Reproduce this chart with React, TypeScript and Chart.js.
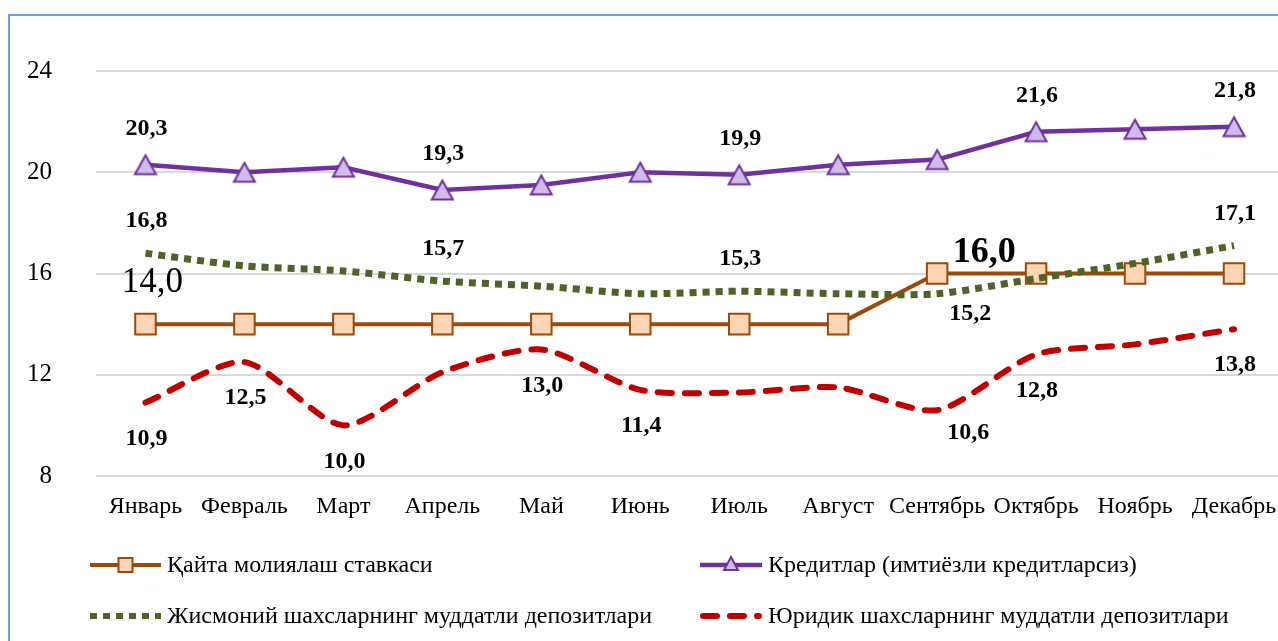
import React, { useEffect, useRef } from 'react';
import { Chart, registerables } from 'chart.js';

Chart.register(...registerables);

const months = ['Январь', 'Февраль', 'Март', 'Апрель', 'Май', 'Июнь', 'Июль', 'Август', 'Сентябрь', 'Октябрь', 'Ноябрь', 'Декабрь'];
const refinancingRate = [14.0, 14.0, 14.0, 14.0, 14.0, 14.0, 14.0, 14.0, 16.0, 16.0, 16.0, 16.0];
const loans = [20.3, 20.0, 20.2, 19.3, 19.5, 20.0, 19.9, 20.3, 20.5, 21.6, 21.7, 21.8];
const individualDeposits = [16.8, 16.3, 16.1, 15.7, 15.5, 15.2, 15.3, 15.2, 15.2, 15.8, 16.4, 17.1];
const corporateDeposits = [10.9, 12.5, 10.0, 12.1, 13.0, 11.4, 11.3, 11.5, 10.6, 12.8, 13.2, 13.8];
const seriesNames = [
  'Қайта молиялаш ставкаси',
  'Кредитлар (имтиёзли кредитларсиз)',
  'Жисмоний шахсларнинг муддатли депозитлари',
  'Юридик шахсларнинг муддатли депозитлари',
];
const yTicks = [8, 12, 16, 20, 24];

// indices of points that carry a value label, per series
const refinancingLabelIdx = [0, 8];
const loansLabelIdx = [0, 3, 6, 9, 11];
const individualLabelIdx = [0, 3, 6, 8, 11];
const corporateLabelIdx = [0, 1, 2, 4, 5, 8, 9, 11];

const FONT = "'Liberation Serif', 'Times New Roman', serif";
const PURPLE = '#7030A0';
const LILAC = '#D1BBE8';

type LabelStyle = { dx: number; dy: number; size: number; bold: boolean };
const labelStyle = (ds: number, idx: number): LabelStyle => {
  if (ds === 0) {
    if (idx === 0) return { dx: 7, dy: -41, size: 35, bold: false };
    return { dx: 47, dy: -21, size: 36, bold: true };
  }
  if (ds === 1) return { dx: 1, dy: -36, size: 24, bold: true };
  if (ds === 2) {
    if (idx === 8) return { dx: 33, dy: 20, size: 24, bold: true };
    return { dx: 1, dy: -32, size: 24, bold: true };
  }
  if (idx === 8) return { dx: 31, dy: 23, size: 24, bold: true };
  return { dx: 1, dy: 36, size: 24, bold: true };
};

const labelIdx = [refinancingLabelIdx, loansLabelIdx, individualLabelIdx, corporateLabelIdx];

const valueLabelPlugin = {
  id: 'valueLabels',
  afterDatasetsDraw(chart: any) {
    const ctx = chart.ctx;
    ctx.save();
    ctx.fillStyle = '#000';
    ctx.textAlign = 'center';
    ctx.textBaseline = 'middle';
    chart.data.datasets.forEach((d: any, ds: number) => {
      const meta = chart.getDatasetMeta(ds);
      labelIdx[ds].forEach((i) => {
        const pt = meta.data[i];
        const st = labelStyle(ds, i);
        ctx.font = `${st.bold ? 'bold ' : ''}${st.size}px ${FONT}`;
        const txt = Number(d.data[i]).toFixed(1).replace('.', ',');
        ctx.fillText(txt, pt.x + st.dx, pt.y + st.dy);
      });
    });
    ctx.restore();
  },
};

const legendItems = [
  { x: 90, y: 565, w: 71, tx: 167, marker: 'rect' },
  { x: 700, y: 565, w: 62, tx: 768, marker: 'triangle' },
  { x: 90, y: 616, w: 71, tx: 167, marker: 'none' },
  { x: 700, y: 616, w: 62, tx: 768, marker: 'none' },
];

const customLegendPlugin = {
  id: 'customLegend',
  afterDraw(chart: any) {
    const ctx = chart.ctx;
    ctx.save();
    chart.data.datasets.forEach((d: any, i: number) => {
      const it = legendItems[i];
      const round = d.borderCapStyle === 'round';
      ctx.strokeStyle = d.borderColor;
      ctx.lineWidth = Math.min(d.borderWidth, 6);
      ctx.lineCap = d.borderCapStyle || 'butt';
      ctx.setLineDash(d.borderDash || []);
      ctx.beginPath();
      ctx.moveTo(it.x + (round ? 3 : 0), it.y);
      ctx.lineTo(it.x + it.w - (round ? 3 : 0), it.y);
      ctx.stroke();
      ctx.setLineDash([]);
      const cx = it.x + it.w / 2;
      if (it.marker === 'rect') {
        ctx.fillStyle = d.pointBackgroundColor;
        ctx.strokeStyle = d.pointBorderColor;
        ctx.lineWidth = 2;
        ctx.fillRect(cx - 7, it.y - 7, 14, 14);
        ctx.strokeRect(cx - 7, it.y - 7, 14, 14);
      } else if (it.marker === 'triangle') {
        ctx.fillStyle = LILAC;
        ctx.strokeStyle = PURPLE;
        ctx.lineWidth = 2;
        ctx.beginPath();
        ctx.moveTo(cx, it.y - 8);
        ctx.lineTo(cx + 7, it.y + 5);
        ctx.lineTo(cx - 7, it.y + 5);
        ctx.closePath();
        ctx.fill();
        ctx.stroke();
      }
      ctx.fillStyle = '#000';
      ctx.font = `24px ${FONT}`;
      ctx.textAlign = 'left';
      ctx.textBaseline = 'middle';
      ctx.fillText(seriesNames[i], it.tx, it.y + 1);
    });
    ctx.restore();
  },
};

function makeTriangle(): HTMLCanvasElement {
  const c = document.createElement('canvas');
  c.width = 26;
  c.height = 24;
  const g = c.getContext('2d')!;
  g.beginPath();
  g.moveTo(13, 2.5);
  g.lineTo(23.5, 21.5);
  g.lineTo(2.5, 21.5);
  g.closePath();
  g.fillStyle = LILAC;
  g.fill();
  g.lineWidth = 2;
  g.lineJoin = 'miter';
  g.strokeStyle = PURPLE;
  g.stroke();
  return c;
}

export default function App() {
  const canvasRef = useRef<HTMLCanvasElement | null>(null);

  useEffect(() => {
    if (!canvasRef.current) return;
    const tri = makeTriangle();
    const chart = new Chart(canvasRef.current, {
      type: 'line',
      data: {
        labels: months,
        datasets: [
          {
            label: seriesNames[0],
            data: refinancingRate,
            borderColor: '#9C4A09',
            borderWidth: 4,
            pointStyle: 'rect',
            pointRadius: 14.5,
            pointBackgroundColor: '#FCD5B5',
            pointBorderColor: '#9C4A09',
            pointBorderWidth: 2,
            tension: 0,
            order: 4,
          },
          {
            label: seriesNames[1],
            data: loans,
            borderColor: PURPLE,
            borderWidth: 4.5,
            pointStyle: tri,
            pointRadius: 12,
            tension: 0,
            order: 3,
          },
          {
            label: seriesNames[2],
            data: individualDeposits,
            borderColor: '#4F6228',
            borderWidth: 7,
            borderDash: [7, 6],
            borderCapStyle: 'butt',
            pointRadius: 0,
            pointStyle: false,
            tension: 0.25,
            order: 2,
          },
          {
            label: seriesNames[3],
            data: corporateDeposits,
            borderColor: '#C00000',
            borderWidth: 6,
            borderDash: [14, 13],
            borderCapStyle: 'round',
            pointRadius: 0,
            pointStyle: false,
            tension: 0.25,
            order: 1,
          },
        ] as any,
      },
      options: {
        animation: false,
        responsive: false,
        layout: { padding: { left: 0, right: 16, top: 71, bottom: 120 } },
        plugins: {
          legend: { display: false },
          tooltip: { enabled: false },
        },
        scales: {
          x: {
            offset: true,
            grid: { display: false, drawTicks: false },
            border: { display: false },
            afterFit: (scale: any) => {
              scale.height = 45;
            },
            ticks: {
              color: '#000',
              font: { family: FONT, size: 24 },
              padding: 16,
              maxRotation: 0,
              autoSkip: false,
            },
          },
          y: {
            min: 8,
            max: 24,
            afterBuildTicks: (scale: any) => {
              scale.ticks = yTicks.map((v) => ({ value: v }));
            },
            afterFit: (scale: any) => {
              scale.width = 96;
            },
            ticks: {
              color: '#000',
              font: { family: FONT, size: 25 },
              padding: 44,
            },
            grid: { color: '#D9D9D9', lineWidth: 2, drawTicks: false },
            border: { display: false },
          },
        },
      } as any,
      plugins: [valueLabelPlugin, customLegendPlugin],
    });
    return () => chart.destroy();
  }, []);

  return (
    <div style={{ position: 'fixed', left: 0, top: 0, width: 1278, height: 641, overflow: 'hidden', background: '#fff' }}>
      <div
        style={{
          position: 'absolute',
          left: 8,
          top: 14,
          width: 1400,
          height: 800,
          borderLeft: '2px solid #6E9EDA',
          borderTop: '2px solid #6E9EDA',
        }}
      />
      <canvas ref={canvasRef} width={1300} height={641} style={{ position: 'absolute', left: 0, top: 0 }} />
    </div>
  );
}
